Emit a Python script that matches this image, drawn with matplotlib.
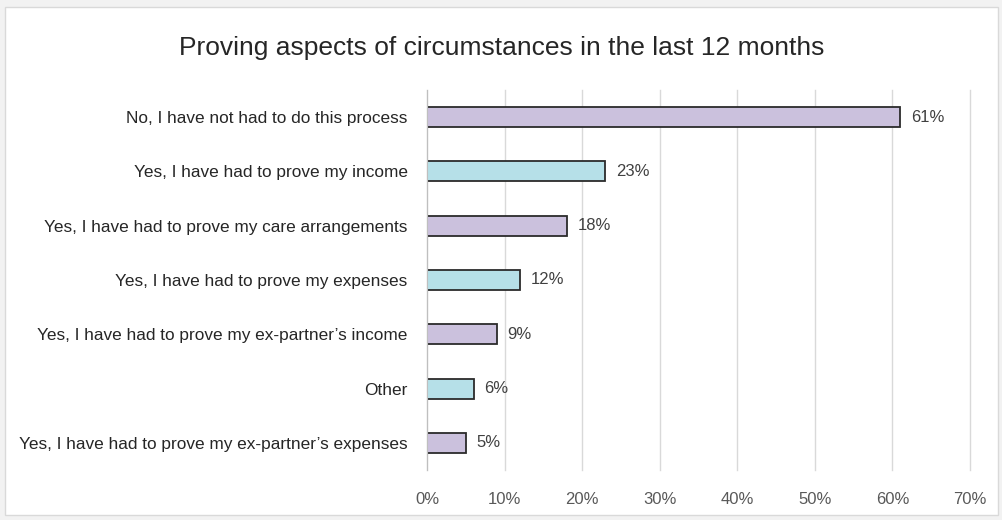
import matplotlib.pyplot as plt
from matplotlib import font_manager
from matplotlib.patches import Rectangle

# survey answers, top to bottom
categories = [
    "No, I have not had to do this process",
    "Yes, I have had to prove my income",
    "Yes, I have had to prove my care arrangements",
    "Yes, I have had to prove my expenses",
    "Yes, I have had to prove my ex-partner\u2019s income",
    "Other",
    "Yes, I have had to prove my ex-partner\u2019s expenses",
]
values = [61, 23, 18, 12, 9, 6, 5]
bar_colors = ["#cbc1dd", "#b6e0e8", "#cbc1dd", "#b6e0e8", "#cbc1dd", "#b6e0e8", "#cbc1dd"]
x_ticks = [0, 10, 20, 30, 40, 50, 60, 70]

names = {f.name for f in font_manager.fontManager.ttflist}
family = "Liberation Sans Narrow" if "Liberation Sans Narrow" in names else "Liberation Sans"
plt.rcParams["font.family"] = [family, "DejaVu Sans"]

fig = plt.figure(figsize=(10.03, 5.2), dpi=100)
fig.patch.set_facecolor("#f2f2f2")
# white card with a thin grey frame
fig.patches.append(Rectangle((5 / 1003, 5 / 520), 993 / 1003, 508 / 520, transform=fig.transFigure,
                             facecolor="white", edgecolor="#d9d9d9", linewidth=1, zorder=-5))

ax = fig.add_axes([427 / 1003, 50 / 520, 543 / 1003, 380 / 520])
ax.set_facecolor("none")

y = list(range(len(categories)))
ax.barh(y, values, height=0.37, color=bar_colors, edgecolor="#2b2b2b", linewidth=1.3, zorder=3)

for yi, v in zip(y, values):
    ax.text(v + 1.4, yi, f"{v}%", va="center", ha="left", fontsize=12, color="#404040")

ax.set_xlim(0, 70)
ax.set_ylim(len(categories) - 0.5, -0.5)
ax.set_yticks(y)
ax.set_yticklabels(categories, fontsize=12.4, color="#262626")
ax.set_xticks(x_ticks)
ax.set_xticklabels([f"{t}%" for t in x_ticks], fontsize=12, color="#595959")
ax.tick_params(axis="both", length=0)
ax.tick_params(axis="y", pad=14)
ax.tick_params(axis="x", pad=16)

ax.grid(axis="x", color="#d9d9d9", linewidth=1, zorder=0)
for line in ax.get_xgridlines():
    line.set_clip_on(False)
for side in ["top", "right", "bottom"]:
    ax.spines[side].set_visible(False)
ax.spines["left"].set_color("#bfbfbf")
ax.spines["left"].set_zorder(4)

fig.text(0.5, 1 - 48 / 520, "Proving aspects of circumstances in the last 12 months",
         ha="center", va="center", fontsize=19, color="#262626")

fig.savefig("out.png", dpi=100, facecolor=fig.get_facecolor())
